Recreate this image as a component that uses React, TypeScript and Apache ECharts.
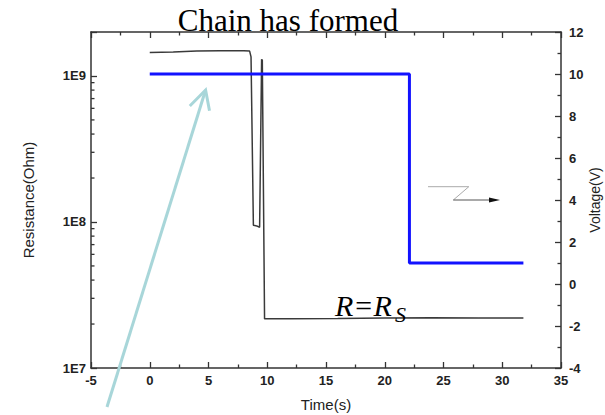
import React, { useEffect, useRef } from 'react';
import * as echarts from 'echarts';

// Time axis (s)
const timeMin = -5;
const timeMax = 35;
const timeStep = 5;

// Resistance trace (left, log axis)
const resistanceTime = [0, 2, 4, 6, 8, 8.5, 8.62, 8.82, 9.1, 9.35, 9.52, 9.58, 9.77, 12, 16, 20, 24, 28, 31.8];
const resistanceOhm = [1.45e9, 1.46e9, 1.48e9, 1.49e9, 1.49e9, 1.48e9, 1.35e9, 9.5e7, 9.4e7, 9.2e7, 1.3e9, 1.28e9, 2.17e7, 2.17e7, 2.18e7, 2.2e7, 2.21e7, 2.2e7, 2.2e7];

// Voltage trace (right axis)
const voltageTime = [0, 22.1, 22.1, 31.8];
const voltageV = [10, 10, 1, 1];

// Left log axis
const resMin = 1e7;
const resMax = 2e9;
const resMinorTicks = [2e7, 3e7, 4e7, 5e7, 6e7, 7e7, 8e7, 9e7, 2e8, 3e8, 4e8, 5e8, 6e8, 7e8, 8e8, 9e8];

// Right axis
const voltMin = -4;
const voltMax = 12;
const voltStep = 2;

const AXIS_COLOR = '#333';
const LABEL_FONT = '"Liberation Sans", Arial, sans-serif';
const SERIF = '"Liberation Serif", "Times New Roman", serif';

export default function App() {
  const ref = useRef<HTMLDivElement>(null);

  useEffect(() => {
    if (!ref.current) return;
    const chart = echarts.init(ref.current, undefined, { renderer: 'svg' });

    const axisLine = { show: true, onZero: false, lineStyle: { color: AXIS_COLOR, width: 1.5 } };
    const tickStyle = { color: AXIS_COLOR, width: 1.3 };
    const labelStyle = { fontSize: 13, fontWeight: 'bold' as const, fontFamily: LABEL_FONT, color: '#222' };
    const nameStyle = { fontSize: 15, fontFamily: LABEL_FONT, color: '#222' };

    const option: any = {
      animation: false,
      grid: { left: 91, right: 44, top: 32, bottom: 47, containLabel: false, outerBoundsMode: 'none' },
      xAxis: [
        {
          type: 'value', position: 'bottom', min: timeMin, max: timeMax, interval: timeStep,
          axisLine, axisTick: { inside: true, length: 6, lineStyle: tickStyle },
          minorTick: { show: true, splitNumber: 2, length: 3.5, lineStyle: tickStyle },
          splitLine: { show: false },
          axisLabel: { ...labelStyle, margin: 6 },
          name: 'Time(s)', nameLocation: 'middle', nameGap: 29, nameMoveOverlap: false, nameTextStyle: nameStyle,
        },
        {
          type: 'value', position: 'top', min: timeMin, max: timeMax, interval: timeStep,
          axisLine, axisTick: { inside: true, length: 6, lineStyle: tickStyle },
          minorTick: { show: true, splitNumber: 2, length: 3.5, lineStyle: tickStyle },
          splitLine: { show: false }, axisLabel: { show: false },
        },
      ],
      yAxis: [
        {
          type: 'log', logBase: 10, position: 'left', min: resMin, max: resMax,
          axisLine, axisTick: { inside: true, length: 6, lineStyle: tickStyle },
          minorTick: { show: false }, splitLine: { show: false },
          axisLabel: {
            ...labelStyle, margin: 5,
            formatter: (v: number) => {
              const e = Math.log10(v);
              return Math.abs(e - Math.round(e)) < 1e-6 ? '1E' + Math.round(e) : '';
            },
          },
          name: 'Resistance(Ohm)', nameLocation: 'middle', nameGap: 55, nameRotate: 90, nameMoveOverlap: false, nameTextStyle: nameStyle,
        },
        {
          type: 'value', position: 'right', min: voltMin, max: voltMax, interval: voltStep,
          axisLine, axisTick: { inside: true, length: 6, lineStyle: tickStyle },
          minorTick: { show: true, splitNumber: 2, length: 3.5, lineStyle: tickStyle },
          splitLine: { show: false },
          axisLabel: { ...labelStyle, margin: 8 },
          name: 'Voltage(V)', nameLocation: 'middle', nameGap: 27, nameRotate: 90, nameMoveOverlap: false,
          nameTextStyle: { ...nameStyle, fontSize: 14 },
        },
      ],
      series: [
        {
          name: 'Resistance', type: 'line', xAxisIndex: 0, yAxisIndex: 0,
          data: resistanceTime.map((t, i) => [t, resistanceOhm[i]]),
          showSymbol: false, symbol: 'none',
          lineStyle: { color: '#3a3a3a', width: 1.5 }, z: 2,
        },
        {
          name: 'Voltage', type: 'line', xAxisIndex: 0, yAxisIndex: 1,
          data: voltageTime.map((t, i) => [t, voltageV[i]]),
          showSymbol: false, symbol: 'none',
          lineStyle: { color: '#1212ff', width: 3 }, z: 3,
        },
        {
          name: 'logMinorTicks', type: 'custom', xAxisIndex: 0, yAxisIndex: 0, clip: false,
          data: resMinorTicks.map((v) => [timeMin, v]),
          renderItem: (_p: any, api: any) => {
            const pt = api.coord([api.value(0), api.value(1)]);
            return {
              type: 'line',
              shape: { x1: pt[0], y1: pt[1], x2: pt[0] + 3.5, y2: pt[1] },
              style: { stroke: AXIS_COLOR, lineWidth: 1.3 },
            };
          },
          silent: true, z: 4,
        },
      ],
      graphic: [
        {
          type: 'text', x: 288, y: 20.5, z: 10,
          style: { text: 'Chain has formed', font: `31px ${SERIF}`, fill: '#000', align: 'center', verticalAlign: 'middle' },
        },
        {
          type: 'text', x: 335, y: 305, z: 10,
          style: { text: 'R=R', font: `italic 30px ${SERIF}`, fill: '#000', align: 'left', verticalAlign: 'middle' },
        },
        {
          type: 'text', x: 395, y: 314.5, z: 10,
          style: { text: 'S', font: `italic 22px ${SERIF}`, fill: '#000', align: 'left', verticalAlign: 'middle' },
        },
        {
          type: 'line', z: 10,
          shape: { x1: 107, y1: 407, x2: 205.6, y2: 90 },
          style: { stroke: '#a8d6d9', lineWidth: 3 },
        },
        {
          type: 'polyline', z: 10,
          shape: { points: [[189.8, 106], [205.6, 90], [209.5, 110.7]] },
          style: { stroke: '#a8d6d9', lineWidth: 3, fill: 'none' },
        },
        {
          type: 'polyline', z: 10,
          shape: { points: [[428, 186.7], [468.8, 186.7], [453.3, 200]] },
          style: { stroke: '#aaaaaa', lineWidth: 1, fill: 'none' },
        },
        {
          type: 'line', z: 10,
          shape: { x1: 453.3, y1: 200, x2: 492, y2: 200 },
          style: { stroke: '#555', lineWidth: 1 },
        },
        {
          type: 'polygon', z: 10,
          shape: { points: [[489, 197.6], [500, 200], [489, 202.4]] },
          style: { fill: '#111' },
        },
      ],
    };

    chart.setOption(option);
    return () => chart.dispose();
  }, []);

  return (
    <div
      ref={ref}
      style={{ position: 'fixed', left: 0, top: 0, width: 605, height: 415, background: '#fff' }}
    />
  );
}
